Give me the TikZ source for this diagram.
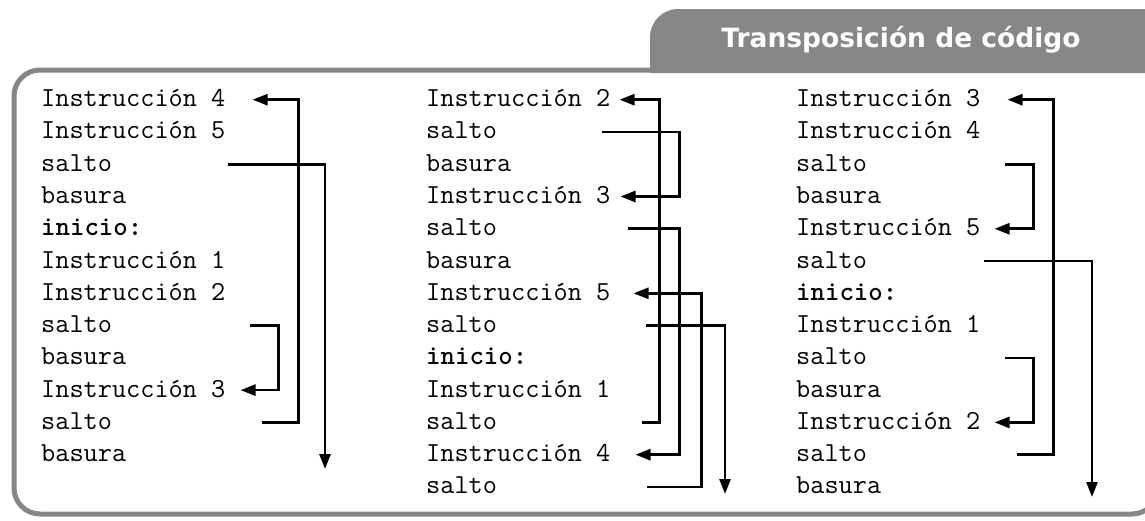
\documentclass[tikz,border=0pt]{standalone}
\usepackage{fontspec}
\usepackage{tikz}
\usetikzlibrary{arrows.meta}
\newfontfamily\titlefont{DejaVu Sans}
\definecolor{framegray}{RGB}{135,135,135}

\begin{document}
\begin{tikzpicture}[x=1pt,y=-1pt,
  code/.style={font=\ttfamily\fontsize{27.5}{27.5}\selectfont, inner sep=0pt, text height=14pt, text depth=0pt, anchor=west},
  jump/.style={black, line width=2.7pt, -{Triangle[length=15pt,width=11pt]}},
  title/.style={font=\titlefont\bfseries\fontsize{26.5}{26.5}\selectfont, text=white, anchor=base}]

\useasboundingbox (0,0) rectangle (1145,520);

\draw[framegray, line width=5pt] (1158,70) [rounded corners=26pt] -- (14,70) -- (14,514) -- (1158,514) -- (1158,60);
\fill[framegray] (650,73) [rounded corners=28pt] -- (650,9) -- (1170,9) [sharp corners] -- (1170,73) -- cycle;
\node[title] (title) at (901,47) {Transposición de código};

\foreach \t [count=\i] in {Instrucción 4, Instrucción 5, salto, basura, \textbf{inicio:}, Instrucción 1, Instrucción 2, salto, basura, Instrucción 3, salto, basura}
  \node[code] (a\i) at (41,{99.7+32.27*(\i-1)}) {\t};

\foreach \t [count=\i] in {Instrucción 2, salto, basura, Instrucción 3, salto, basura, Instrucción 5, salto, \textbf{inicio:}, Instrucción 1, salto, Instrucción 4, salto}
  \node[code] (b\i) at (426,{99.7+32.27*(\i-1)}) {\t};

\foreach \t [count=\i] in {Instrucción 3, Instrucción 4, salto, basura, Instrucción 5, salto, \textbf{inicio:}, Instrucción 1, salto, basura, Instrucción 2, salto, basura}
  \node[code] (c\i) at (796,{99.7+32.27*(\i-1)}) {\t};

% first column
\coordinate (aout) at (325,469);
\draw[jump] ([xshift=116pt]a3.east) -| (aout);
\draw[jump] ([xshift=138pt]a8.east) -| ([xshift=53pt]a10.east) -- ([xshift=15pt]a10.east);
\draw[jump] ([xshift=150pt]a11.east) -| ([xshift=73pt]a1.east) -- ([xshift=27pt]a1.east);

% second column
\coordinate (bout) at (725,494);
\draw[jump] ([xshift=145pt]b11.east) -| ([xshift=49pt]b1.east) -- ([xshift=9pt]b1.east);
\draw[jump] ([xshift=105pt]b2.east) -| ([xshift=69pt]b4.east) -- ([xshift=10pt]b4.east);
\draw[jump] ([xshift=131pt]b5.east) -| ([xshift=69pt]b12.east) -- ([xshift=25pt]b12.east);
\draw[jump] ([xshift=150pt]b13.east) -| ([xshift=91pt]b7.east) -- ([xshift=23pt]b7.east);
\draw[jump] ([xshift=149pt]b8.east) -| (bout);

% third column
\coordinate (cout) at (1092,497);
\draw[jump] ([xshift=150pt]c12.east) -| ([xshift=73pt]c1.east) -- ([xshift=27pt]c1.east);
\draw[jump] ([xshift=138pt]c3.east) -| ([xshift=53pt]c5.east) -- ([xshift=14pt]c5.east);
\draw[jump] ([xshift=117pt]c6.east) -| (cout);
\draw[jump] ([xshift=138pt]c9.east) -| ([xshift=53pt]c11.east) -- ([xshift=14pt]c11.east);
\end{tikzpicture}
\end{document}
